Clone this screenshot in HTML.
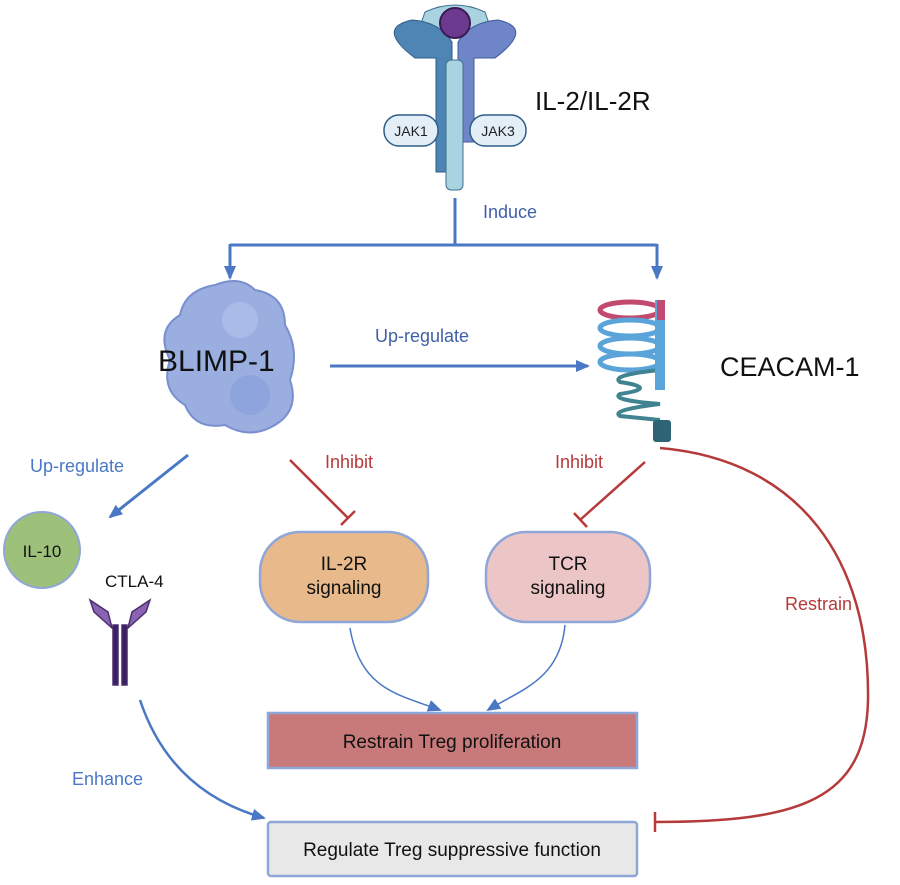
<!DOCTYPE html>
<html><head><style>body{margin:0;background:#fff}svg{display:block}text{font-family:"Liberation Sans",sans-serif}</style></head><body>
<svg width="900" height="885" viewBox="0 0 900 885" xmlns="http://www.w3.org/2000/svg">
<defs>
<marker id="ab" markerWidth="14" markerHeight="12" refX="12" refY="6" orient="auto" markerUnits="userSpaceOnUse"><path d="M0,0 L14,6 L0,12 z" fill="#4a78c4"/></marker>
</defs>
<!-- receptor -->
<path d="M425,12 Q455,-2 485,12 L492,32 L418,32 Z" fill="#a9d3e0" stroke="#3c6f90" stroke-width="1"/>
<path d="M412,20 Q375,28 415,58 L436,58 L436,172 L452,172 L452,42 Q440,22 412,20Z" fill="#4f85b5" stroke="#2e5e88"/>
<path d="M498,20 Q535,28 495,58 L474,58 L474,142 L458,142 L458,42 Q470,22 498,20Z" fill="#6e86c8" stroke="#3e5a9a"/>
<rect x="446" y="60" width="17" height="130" rx="5" fill="#a9d3e0" stroke="#3c6f90"/>
<circle cx="455" cy="23" r="15" fill="#6b3a8e" stroke="#3b1b55" stroke-width="2"/>
<rect x="384" y="115" width="54" height="31" rx="15" fill="#e3eef7" stroke="#2e5e88" stroke-width="1.5"/>
<text x="411" y="136" font-size="14" text-anchor="middle" fill="#222">JAK1</text>
<rect x="470" y="115" width="56" height="31" rx="15" fill="#e3eef7" stroke="#2e5e88" stroke-width="1.5"/>
<text x="498" y="136" font-size="14" text-anchor="middle" fill="#222">JAK3</text>
<text x="535" y="110" font-size="26" fill="#111">IL-2/IL-2R</text>
<!-- induce -->
<g stroke="#4a78c4" stroke-width="3" fill="none">
<line x1="455" y1="198" x2="455" y2="245"/>
<line x1="230" y1="245" x2="657" y2="245"/>
<line x1="230" y1="244" x2="230" y2="278" marker-end="url(#ab)"/>
<line x1="657" y1="244" x2="657" y2="278" marker-end="url(#ab)"/>
<line x1="330" y1="366" x2="588" y2="366" marker-end="url(#ab)"/>
<line x1="188" y1="455" x2="110" y2="517" marker-end="url(#ab)"/>
<path d="M350,628 C360,690 400,695 440,710" stroke-width="1.5" marker-end="url(#ab)"/>
<path d="M565,625 C560,680 520,690 488,710" stroke-width="1.5" marker-end="url(#ab)"/>
<path d="M140,700 C160,760 200,800 264,818" stroke-width="2.5" marker-end="url(#ab)"/>
</g>
<text x="483" y="218" font-size="18" fill="#3f5fa8">Induce</text>
<text x="375" y="342" font-size="18" fill="#3f5fa8">Up-regulate</text>
<text x="30" y="472" font-size="18" fill="#4a78c4">Up-regulate</text>
<text x="72" y="785" font-size="18" fill="#4a78c4">Enhance</text>
<!-- BLIMP blob -->
<path d="M215,285 Q240,275 255,290 Q285,295 285,325 Q300,350 290,380 Q300,410 275,425 Q250,440 225,425 Q195,430 185,405 Q160,390 170,360 Q155,330 180,315 Q185,290 215,285Z" fill="#9aaee0" stroke="#7a8fd0" stroke-width="2"/>
<circle cx="240" cy="320" r="18" fill="#aabbe8"/><circle cx="250" cy="395" r="20" fill="#8ea4dc"/>
<text x="158" y="371" font-size="30" fill="#111">BLIMP-1</text>
<!-- CEACAM -->
<g fill="none" stroke-width="5">
<ellipse cx="630" cy="310" rx="30" ry="8" stroke="#c24a6e"/>
<ellipse cx="630" cy="328" rx="30" ry="8" stroke="#5aa4da"/>
<ellipse cx="630" cy="346" rx="30" ry="8" stroke="#5aa4da"/>
<ellipse cx="630" cy="362" rx="30" ry="8" stroke="#5aa4da"/>
<path d="M660,370 Q610,375 620,382 Q660,388 620,394 Q610,400 660,404 Q610,410 620,416 L660,420" stroke="#3f8490" stroke-width="4"/>
</g>
<rect x="655" y="300" width="10" height="90" fill="#5aa4da"/>
<rect x="657" y="300" width="8" height="20" fill="#c24a6e"/>
<rect x="653" y="420" width="18" height="22" rx="3" fill="#2e6475"/>
<text x="720" y="376" font-size="27" fill="#111">CEACAM-1</text>
<!-- inhibit -->
<g stroke="#b53a3a" stroke-width="2.5" fill="none">
<line x1="290" y1="460" x2="348" y2="518"/><line x1="341" y1="525" x2="355" y2="511"/>
<line x1="645" y1="462" x2="580" y2="520"/><line x1="574" y1="513" x2="587" y2="527"/>
<path d="M660,448 C800,460 870,560 868,700 C866,800 800,822 655,822"/>
<line x1="655" y1="812" x2="655" y2="832"/>
</g>
<text x="325" y="468" font-size="18" fill="#b53a3a">Inhibit</text>
<text x="555" y="468" font-size="18" fill="#b53a3a">Inhibit</text>
<text x="785" y="610" font-size="18" fill="#b53a3a">Restrain</text>
<!-- IL-10, CTLA-4 -->
<circle cx="42" cy="550" r="38" fill="#9dc07a" stroke="#8fa6d9" stroke-width="2"/>
<text x="42" y="557" font-size="17" text-anchor="middle" fill="#111">IL-10</text>
<text x="105" y="587" font-size="17" fill="#111">CTLA-4</text>
<g fill="#8a64b0" stroke="#4b2e70" stroke-width="1.5">
<path d="M90,600 L108,612 L112,628 L94,612Z"/><path d="M150,600 L132,612 L128,628 L146,612Z"/>
<rect x="113" y="625" width="5" height="60" fill="#3b2060"/><rect x="122" y="625" width="5" height="60" fill="#3b2060"/>
</g>
<!-- boxes -->
<rect x="260" y="532" width="168" height="90" rx="40" fill="#e8b98a" stroke="#8fa6d9" stroke-width="2.5"/>
<text x="344" y="570" font-size="19" text-anchor="middle" fill="#111">IL-2R</text>
<text x="344" y="594" font-size="19" text-anchor="middle" fill="#111">signaling</text>
<rect x="486" y="532" width="164" height="90" rx="40" fill="#ecc6c6" stroke="#8fa6d9" stroke-width="2.5"/>
<text x="568" y="570" font-size="19" text-anchor="middle" fill="#111">TCR</text>
<text x="568" y="594" font-size="19" text-anchor="middle" fill="#111">signaling</text>
<rect x="268" y="713" width="369" height="55" fill="#c87a7a" stroke="#8fa6d9" stroke-width="2.5"/>
<text x="452" y="748" font-size="19" text-anchor="middle" fill="#111">Restrain Treg proliferation</text>
<rect x="268" y="822" width="369" height="54" rx="3" fill="#e8e8e8" stroke="#8fa6d9" stroke-width="2.5"/>
<text x="452" y="856" font-size="19" text-anchor="middle" fill="#111">Regulate Treg suppressive function</text>
</svg>
</body></html>
